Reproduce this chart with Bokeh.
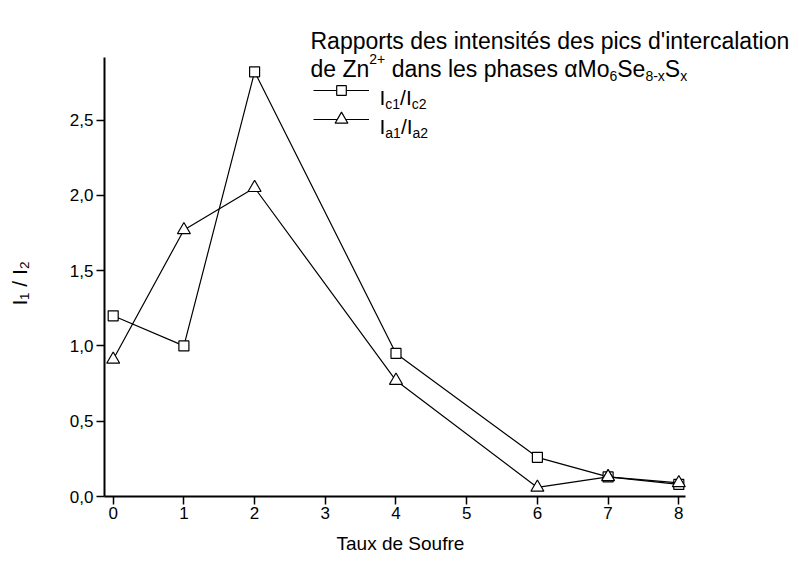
from bokeh.plotting import figure
from bokeh.models import (Range1d, Label, Legend, LegendItem, Title,
                          CustomJSTickFormatter, FixedTicker)
from bokeh.embed import file_html
from bokeh.resources import INLINE

# ---------------- data ----------------
taux_c = [0, 1, 2, 4, 6, 7, 8]
ratio_c = [1.20, 1.00, 2.82, 0.95, 0.26, 0.13, 0.08]     # Ic1/Ic2 (squares)
taux_a = [0, 1, 2, 4, 6, 7, 8]
ratio_a = [0.91, 1.77, 2.05, 0.77, 0.06, 0.13, 0.09]     # Ia1/Ia2 (triangles)
x_ticks = [0, 1, 2, 3, 4, 5, 6, 7, 8]
y_ticks = [0.0, 0.5, 1.0, 1.5, 2.0, 2.5]
x_axis_bounds = (-0.123, 8.095)
y_axis_bounds = (0.0, 2.915)

FONT = "Liberation Sans"

# ---------------- layout ----------------
W, H = 795, 562
BL, BR, BT, BB = 104, 0, 0, 66
FW = W - BL - BR
FH = H - BT - BB
PX_PER_X = 70.7
PX_PER_Y = 150.6
X0 = x_axis_bounds[0]
X1 = X0 + FW / PX_PER_X
Y0 = 0.0
Y1 = FH / PX_PER_Y

p = figure(width=W, height=H, output_backend="svg", toolbar_location=None,
           x_range=Range1d(X0, X1), y_range=Range1d(Y0, Y1),
           min_border_left=BL, min_border_right=BR,
           min_border_top=BT, min_border_bottom=BB)
p.outline_line_color = None
p.xgrid.grid_line_color = None
p.ygrid.grid_line_color = None
p.background_fill_color = "white"
p.border_fill_color = "white"

for ax in (p.xaxis, p.yaxis):
    ax.axis_line_width = 2
    ax.axis_line_color = "black"
    ax.major_tick_line_width = 1.5
    ax.major_tick_line_color = "black"
    ax.major_tick_out = 8
    ax.major_tick_in = 0
    ax.minor_tick_line_color = None
    ax.major_label_text_font = FONT
    ax.major_label_text_font_size = "17px"
    ax.major_label_text_color = "black"

p.xaxis.bounds = x_axis_bounds
p.yaxis.bounds = y_axis_bounds
p.xaxis.ticker = FixedTicker(ticks=x_ticks)
p.yaxis.ticker = FixedTicker(ticks=y_ticks)
p.yaxis.formatter = CustomJSTickFormatter(code="return tick.toFixed(1).replace('.', ',');")
p.xaxis.major_label_standoff = 2
p.yaxis.major_label_standoff = 3

# axis titles, positioned relative to the drawn (bounded) axes
x_title = Title(text="Taux de Soufre", align="left", offset=232,
                text_font=FONT, text_font_size="19px", text_font_style="normal",
                text_color="black", standoff=18)
p.add_layout(x_title, "below")
# empty spacer between the y tick labels and the y title
y_spacer = Title(text="\u00a0", text_font_size="1px", standoff=29)
p.add_layout(y_spacer, "left")
y_title = Title(text="I\u2081 / I\u2082", align="left", offset=191,
                text_font=FONT, text_font_size="21px", text_font_style="normal",
                text_color="black", standoff=8)
p.add_layout(y_title, "left")

# ---------------- series ----------------
line_c = p.line(taux_c, ratio_c, line_color="black", line_width=1.2)
mark_c = p.scatter(taux_c, ratio_c, marker="square", size=10,
                   fill_color="white", line_color="black", line_width=1.2)
line_a = p.line(taux_a, ratio_a, line_color="black", line_width=1.2)
mark_a = p.scatter(taux_a, ratio_a, marker="triangle", size=13,
                   fill_color="white", line_color="black", line_width=1.2)

# ---------------- helpers (canvas pixel -> data) ----------------
FRAME_LEFT = BL
FRAME_BOTTOM = H - BB


def dx(px):
    return X0 + (px - FRAME_LEFT) / PX_PER_X


def dy(py):
    return Y0 + (FRAME_BOTTOM - py) / PX_PER_Y


ARIAL = {' ': 278, 'a': 556, 'b': 556, 'c': 500, 'd': 556, 'e': 556, 'f': 278,
         'g': 556, 'h': 556, 'i': 222, 'l': 222, 'm': 833, 'n': 556, 'o': 556,
         'p': 556, 'r': 333, 's': 500, 't': 278, 'u': 556, 'x': 500,
         'I': 278, 'M': 833, 'S': 667, 'Z': 611, '+': 584, '-': 333, '/': 278,
         '\u03b1': 578, "'": 191}


def text_w(s, size):
    return sum(ARIAL.get(ch, 556) for ch in s) * size / 1000.0


def rich_text(pieces, px, py):
    """pieces: (text, font px size, baseline shift px: + down)"""
    x = px
    for txt, size, shift in pieces:
        lead = len(txt) - len(txt.lstrip(" "))
        x += text_w(" " * lead, size)
        body = txt.lstrip(" ")
        p.add_layout(Label(x=dx(x), y=dy(py + shift), text=body,
                           text_font=FONT, text_font_size=f"{size}px",
                           text_color="black", text_align="left",
                           text_baseline="alphabetic"))
        x += text_w(body, size)


# ---------------- title block ----------------
rich_text([("Rapports des intensit\u00e9s des pics d'intercalation", 23, 0)], 310, 40)
rich_text([("de Zn", 23, 0), ("2+", 14, -10), (" dans les phases \u03b1Mo", 23, 0),
           ("6", 14, 7), ("Se", 23, 0), ("8-x", 14, 7), ("S", 23, 0), ("x", 14, 7)],
          310, 68)

# ---------------- legend ----------------
ROW1, ROW2 = 90, 119
leg1 = Legend(items=[LegendItem(label=" ", renderers=[line_c, mark_c])],
              location=(313 - FRAME_LEFT, FRAME_BOTTOM - (ROW1 + 12)),
              glyph_width=56, glyph_height=24)
leg2 = Legend(items=[LegendItem(label=" ", renderers=[line_a, mark_a])],
              location=(313 - FRAME_LEFT, FRAME_BOTTOM - (ROW2 + 16)),
              glyph_width=56, glyph_height=32)
for lg in (leg1, leg2):
    lg.padding = 0
    lg.margin = 0
    lg.spacing = 0
    lg.label_standoff = 0
    lg.label_width = 0
    lg.label_height = 0
    lg.label_text_font_size = "1px"
    lg.background_fill_alpha = 0
    lg.border_line_alpha = 0
    p.add_layout(lg)

rich_text([("I", 21, 0), ("c1", 14, 6), ("/I", 21, 0), ("c2", 14, 6)], 379, ROW1 + 7)
rich_text([("I", 21, 0), ("a1", 14, 6), ("/I", 21, 0), ("a2", 14, 6)], 379, ROW2 + 7)

open("out.html", "w").write(file_html(p, INLINE))
